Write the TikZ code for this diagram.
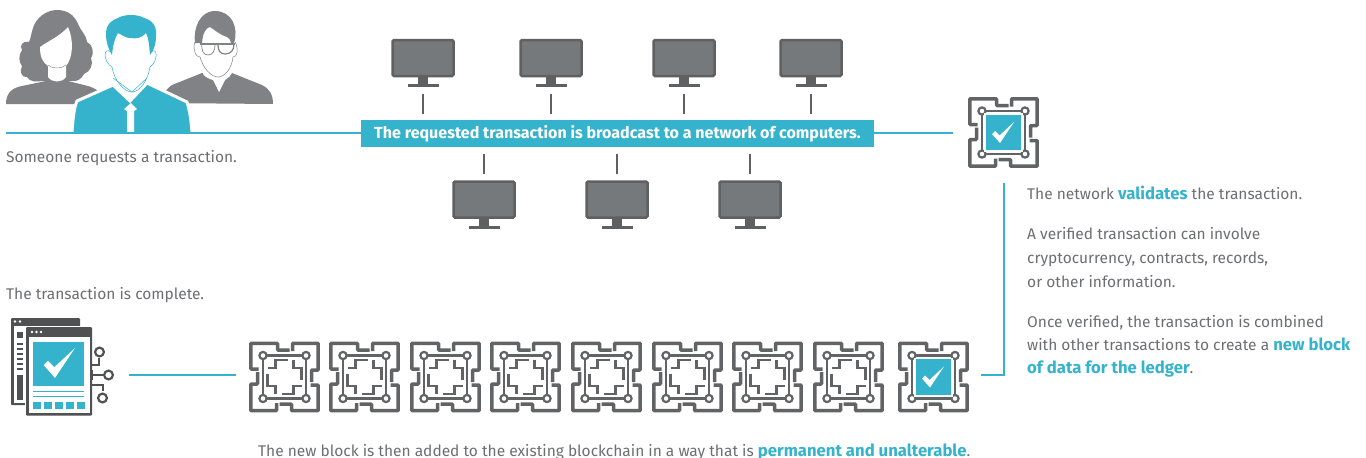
\documentclass[tikz,border=0pt]{standalone}
\usepackage{fontspec}
\setmainfont{Fira Sans}
\usetikzlibrary{positioning, calc}
\definecolor{tealblue}{HTML}{35B3CC}
\definecolor{txtgray}{HTML}{6D6E71}
\definecolor{monfill}{HTML}{76797B}
\definecolor{monedge}{HTML}{5E6062}
\definecolor{circgray}{HTML}{626365}
\definecolor{persongray}{HTML}{808285}
\definecolor{windark}{HTML}{505152}
\tikzstyle{monitorbox} = [rectangle, rounded corners=1.5pt, minimum width=61pt, minimum height=36pt, inner sep=0pt,
                          draw=monedge, line width=2.5pt, fill=monfill]
\tikzstyle{iconbox} = [rectangle, minimum size=101pt, inner sep=0pt, outer sep=0pt]
\tikzstyle{tealline} = [draw=tealblue, line width=2pt]
\tikzstyle{tick} = [draw=monedge, line width=1.6pt]
\tikzstyle{bodytext} = [font=\fontsize{15.5}{23.6}\selectfont, text=txtgray, inner sep=0pt, align=left, anchor=base west]
\tikzstyle{circuitline} = [draw=circgray, line width=3.5pt, rounded corners=0.8pt]
\tikzstyle{circuitstair} = [draw=circgray, line width=2.6pt]
\tikzstyle{circuitwire} = [draw=circgray, line width=2.4pt]
\tikzstyle{circuitdot} = [draw=circgray, line width=2.2pt, fill=white]
\newcommand{\hl}[1]{\textcolor{tealblue}{\fontsize{16.7}{23.6}\selectfont\textbf{#1}}}
\tikzset{
  pics/checkmark/.style={code={
    \fill[white] (-11.5,1.5) -- (-8.5,-1.5) -- (-4,3) -- (10.5,-10.5) -- (-3.5,10.5) -- cycle;
  }},
  pics/circuit/.style={code={
    \foreach \r in {0,90,180,270} {
      \begin{scope}[rotate=\r]
        \draw[circuitline] (-26,-8) -- (-33.7,-8) -- (-33.7,-33.7) -- (-7,-33.7) -- (-7,-27) -- (5,-27);
        \draw[circuitstair] (-17,-9) -- (-9,-9) -- (-9,-17) -- (3,-17);
        \draw[circuitwire] (-21.5,-21.5) -- (21.5,-21.5);
      \end{scope}
    }
    \foreach \px/\py in {-21.5/-21.5, 21.5/-21.5, -21.5/21.5, 21.5/21.5}
      \draw[circuitdot] (\px,\py) circle (3.6);
  }},
  pics/doneblock/.style={code={
    \pic {circuit};
    \fill[white] (-19.5,-19.5) rectangle (19.5,19.5);
    \fill[tealblue] (-17.7,-17.7) rectangle (17.7,17.7);
    \pic {checkmark};
  }}
}
\begin{document}
\begin{tikzpicture}[x=1pt, y=-1pt]
    \useasboundingbox (0,0) rectangle (1366,458);

    % People
    \fill[persongray] (57,10) .. controls (46,10) and (36,18) .. (33,28) .. controls (31,34) and (31,38) .. (29,42)
        .. controls (23,40) and (19,46) .. (22,50) .. controls (18,56) and (19,62) .. (22,66)
        .. controls (19,72) and (22,78) .. (27,77) .. controls (30,82) and (36,82) .. (42,81) -- (72,81)
        .. controls (78,82) and (82,78) .. (84,74) .. controls (90,72) and (94,64) .. (91,58)
        .. controls (95,52) and (92,44) .. (87,42) .. controls (86,34) and (80,30) .. (78,24)
        .. controls (74,14) and (66,10) .. (57,10) -- cycle;
    \fill[persongray] (6,104) .. controls (6,94) and (11,88) .. (22,86) -- (46,81) -- (68,81) -- (88,86) .. controls (94,88) and (98,90) .. (100,93) -- (76,104) -- cycle;
    \fill[white] (68,27) .. controls (60,36) and (50,40) .. (40,47) .. controls (40,56) and (42,62) .. (48,66)
        -- (48,77) .. controls (52,83) and (62,83) .. (66,77) -- (66,66) .. controls (73,58) and (74,40) .. (68,27) -- cycle;
    \draw[persongray, line width=0.4pt] (48,65) .. controls (52,69) and (62,69) .. (66,65);

    \fill[persongray] (160,103) .. controls (162,95) and (165,90) .. (172,85) -- (202,73) -- (232,73) -- (262,85) .. controls (270,89) and (273,95) .. (273,104) -- cycle;
    \fill[white] (203,68) -- (203,74) .. controls (206,78) and (210,79) .. (213,80) -- (219,92) -- (225,80) .. controls (228,78) and (231,76) .. (232,73) -- (232,68) -- cycle;
    \fill[persongray] (195,43) .. controls (193,28) and (200,11) .. (215,11) .. controls (232,11) and (239,28) .. (234,43) -- (231,43) .. controls (231,40) and (229,38) .. (227,37) .. controls (220,35) and (215,30) .. (210,27) .. controls (206,28) and (203,32) .. (202,43) -- cycle;
    \draw[persongray, line width=0.5pt] (195,42) .. controls (192,48) and (196,58) .. (200,57) .. controls (203,68) and (211,77) .. (218,77) .. controls (225,77) and (232,68) .. (233,57) .. controls (237,58) and (239,48) .. (235,42);
    \draw[persongray, line width=1.6pt] (200,44) -- (235,44);
    \draw[persongray, line width=0.7pt] (202,44) .. controls (201,51) and (204,55) .. (208,55) .. controls (213,55) and (215,50) .. (215,45);
    \draw[persongray, line width=1.2pt] (218,45) .. controls (218,50) and (220,54) .. (225,54) .. controls (231,54) and (234,50) .. (234,44);

    \filldraw[fill=tealblue, draw=white, line width=3pt] (72,132) .. controls (73,118) and (74,108) .. (77,101) -- (113,85) -- (130,101) -- (147,83) -- (187,102) .. controls (190,112) and (191,120) .. (192,132);
    \fill[white] (113,72) -- (113,85) -- (130,101) -- (147,84) -- (147,72) -- cycle;
    \draw[tealblue, line width=0.5pt] (113,78) -- (132,92) -- (147,78);
    \fill[white] (127,132) -- (127,111) -- (124,109) -- (131,103) -- (137,109) -- (134,111) -- (134,132) -- cycle;
    \fill[tealblue] (106,34) .. controls (106,24) and (112,20) .. (118,18) .. controls (124,14) and (138,14) .. (144,18) .. controls (152,20) and (157,26) .. (156,36)
        .. controls (156,44) and (154,50) .. (150,55) -- (149,44) .. controls (148,38) and (147,35) .. (146,33)
        .. controls (142,38) and (136,39) .. (130,38) .. controls (126,38) and (122,35) .. (118,33) .. controls (115,38) and (113,44) .. (112,55) .. controls (108,48) and (106,42) .. (106,34) -- cycle;
    \draw[tealblue, line width=0.5pt] (111,52) .. controls (103,46) and (103,62) .. (112,67) .. controls (114,80) and (124,92) .. (132,92) .. controls (140,92) and (148,80) .. (150,67) .. controls (158,62) and (158,46) .. (151,52);

    % Network
    \node[rectangle, fill=tealblue, minimum width=513pt, minimum height=27pt, inner sep=0pt, text=white,
          font=\fontsize{16.05}{18}\selectfont\bfseries] (banner) at (617.5,133.5) {The requested transaction is broadcast to a network of computers.};
    \foreach \name/\cx in {mona/423, monb/551, monc/684, mond/811} {
        \node[monitorbox] (\name) at (\cx,58) {};
        \fill[monedge] (\cx-5,76) rectangle (\cx+5,84);
        \fill[monedge] (\cx-15.5,84) rectangle (\cx+15.5,87);
        \draw[tick, shorten <=17pt, shorten >=6pt] (\name.south) -- (\name.south |- banner.north);
    }
    \foreach \name/\cx in {mone/484, monf/617, mong/750} {
        \node[monitorbox] (\name) at (\cx,199.5) {};
        \fill[monedge] (\cx-5,218) rectangle (\cx+5,226);
        \fill[monedge] (\cx-15.5,226) rectangle (\cx+15.5,228.5);
        \draw[tick, shorten <=6pt, shorten >=7pt] (\name.north) -- (\name.north |- banner.south);
    }

    % Validation and chain
    \node[iconbox] (validate) at (1003.5,132.5) {};
    \pic at (validate) {doneblock};
    \foreach \name/\cx in {ba/284.5, bb/364.5, bc/445.5, bd/525.5, be/606.5, bf/687.5, bg/767.5, bh/848.5} {
        \node[inner sep=0pt, minimum size=71pt] (\name) at (\cx,377) {};
        \pic at (\name) {circuit};
    }
    \node[inner sep=0pt, minimum size=71pt] (newblock) at (933.5,377) {};
    \pic at (newblock) {doneblock};

    % Finished window
    \fill[windark, rounded corners=1pt] (11,318) rectangle (80,405);
    \fill[white] (13.5,326) rectangle (78,403);
    \fill[white] (15,321.5) circle (1.4) (20,321.5) circle (1.4);
    \fill[windark] (17,332) rectangle (23,338);
    \foreach \ly in {343,348,353,358,363,368}
        \fill[windark] (17,\ly) rectangle (23,\ly+1.5);
    \fill[windark] (17,375) rectangle (23,400);
    \fill[white] (24.5,325.5) rectangle (94,417);
    \fill[windark, rounded corners=1pt] (26,327) rectangle (92,415.5);
    \fill[white] (28.5,337) rectangle (89.5,413);
    \foreach \dx in {32,36.5,41}
        \fill[white] (\dx,332) circle (1.4);
    \fill[tealblue] (33,342) rectangle (84,386);
    \pic[scale=1.42] at (60,363) {checkmark};
    \fill[tealblue] (33,390.5) rectangle (84,392);
    \fill[tealblue] (33,395.5) rectangle (84,397);
    \foreach \dx in {33,44,55,66,77}
        \fill[tealblue] (\dx,401.5) rectangle (\dx+7.5,408.5);
    \draw[windark, line width=2.2pt] (92,365) -- (99,365) -- (99,358);
    \draw[windark, line width=2.2pt] (90,375) -- (103,375);
    \draw[windark, line width=2.2pt] (92,370) -- (92,380);
    \draw[windark, line width=2.2pt] (92,385) -- (103,385) -- (103,391);
    \draw[windark, line width=2.2pt, fill=white] (99.5,352) circle (4.4);
    \draw[windark, line width=2.2pt, fill=white] (108.5,375) circle (4.4);
    \draw[windark, line width=2.2pt, fill=white] (102.5,398) circle (4.4);

    % Connectors
    \coordinate (personstart) at (6,132.5);
    \coordinate (windowend) at (129,375);
    \coordinate (chainstart) at (236,375);
    \coordinate (chainend) at (981,375);
    \draw[tealline] (personstart) -- (personstart -| banner.west);
    \draw[tealline] (banner.east |- validate) -- (validate);
    \draw[tealline] (validate) |- (chainend);
    \draw[tealline] (windowend) -- (chainstart);

    % Labels
    \node[bodytext] (requested) at (6,162) {Someone requests a transaction.};
    \node[bodytext] (validated) at (1027,199) {The network \hl{validates} the transaction.};
    \node[bodytext] (verified) at (1027,239) {A verified transaction can involve};
    \node[bodytext] (verifiedb) at (1027,263) {cryptocurrency, contracts, records,};
    \node[bodytext] (verifiedc) at (1027,287) {or other information.};
    \node[bodytext] (combined) at (1027,327) {Once verified, the transaction is combined};
    \node[bodytext] (combinedb) at (1027,350) {with other transactions to create a \hl{new block}};
    \node[bodytext] (combinedc) at (1027,373) {\hl{of data for the ledger}.};
    \node[bodytext] (complete) at (6,299) {The transaction is complete.};
    \node[bodytext] (added) at (258,456) {The new block is then added to the existing blockchain in a way that is \hl{permanent and unalterable}.};
\end{tikzpicture}
\end{document}
